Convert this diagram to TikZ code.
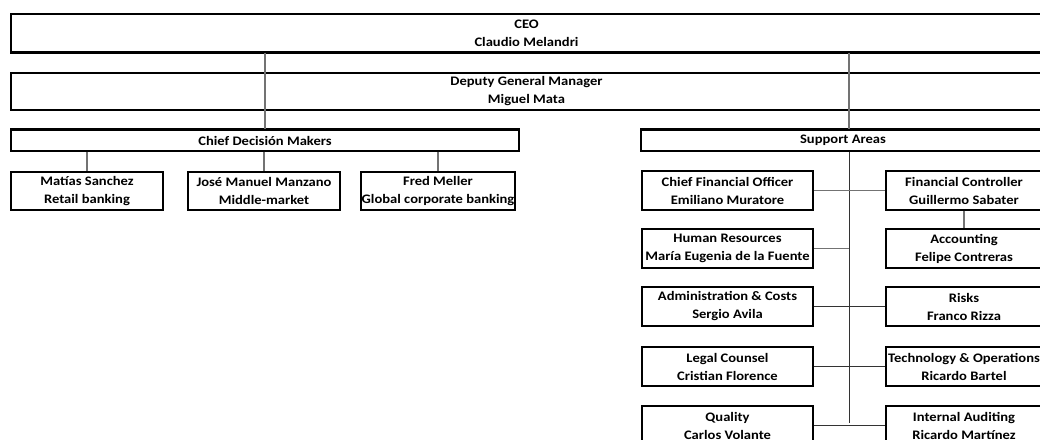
\documentclass[tikz,border=0pt]{standalone}
\usepackage{fontspec}
\setmainfont{Carlito}[FakeStretch=1.12]
\begin{document}
\begin{tikzpicture}[x=1pt,y=-1pt,
  box/.style={draw=black, line width=1.2pt, inner sep=0pt, align=center,
    font=\fontsize{13}{18}\selectfont\bfseries},
  wbox/.style={box, line width=1.8pt},
  conn/.style={draw=black!55, line width=1.8pt},
  thin/.style={draw=black!80, line width=1pt}]
\useasboundingbox[fill=white] (0,0) rectangle (1040,439);
% top boxes
\node[box, minimum width=1031pt, minimum height=38pt] (ceo) at (526.5,33) {CEO\\Claudio Melandri};
\node[box, minimum width=1031pt, minimum height=37pt] (dgm) at (526.5,91.5) {Deputy General Manager\\Miguel Mata};
\node[box, minimum width=508pt, minimum height=21pt] (cdm) at (265,140.5) {Chief Decisión Makers};
\node[box, minimum width=404pt, minimum height=21pt] (sa) at (843,140.5) {Support Areas};
% thick edges
\draw[line width=2.8pt] (ceo.south west) -- (ceo.south east);
\draw[line width=2.8pt] (cdm.north west) -- (cdm.north east);
\draw[line width=2.8pt] (sa.north west) -- (sa.north east);
% decision makers
\node[box, minimum width=152pt, minimum height=38pt] (ms) at (87,191) {Matías Sanchez\\Retail banking};
\node[box, minimum width=152pt, minimum height=38pt] (jm) at (264,191) {José Manuel Manzano\\Middle-market};
\node[box, minimum width=154pt, minimum height=38pt] (fm) at (438,191) {Fred Meller\\Global corporate banking};
% support left column
\node[wbox, minimum width=171pt, minimum height=39pt] (cfo) at (727.5,190.5) {Chief Financial Officer\\Emiliano Muratore};
\node[wbox, minimum width=171pt, minimum height=39pt] (hr) at (727.5,248.5) {Human Resources\\María Eugenia de la Fuente};
\node[wbox, minimum width=171pt, minimum height=39pt] (adm) at (727.5,306.5) {Administration \& Costs\\Sergio Avila};
\node[wbox, minimum width=171pt, minimum height=39pt] (leg) at (727.5,366.5) {Legal Counsel\\Cristian Florence};
\node[wbox, minimum width=171pt, minimum height=39pt] (qua) at (727.5,425.5) {Quality\\Carlos Volante};
% support right column
\node[box, minimum width=156pt, minimum height=39pt] (fc) at (964,190.5) {Financial Controller\\Guillermo Sabater};
\node[box, minimum width=156pt, minimum height=39pt] (acc) at (964,248.5) {Accounting\\Felipe Contreras};
\node[box, minimum width=156pt, minimum height=39pt] (ris) at (964,306.5) {Risks\\Franco Rizza};
\node[box, minimum width=156pt, minimum height=39pt] (tec) at (964,366.5) {Technology \& Operations\\Ricardo Bartel};
\node[box, minimum width=156pt, minimum height=39pt] (ia) at (964,425.5) {Internal Auditing\\Ricardo Martínez};
% spine
\coordinate (spine) at (849,423);
% connectors
\draw[conn] (cdm.north |- ceo.south) -- (cdm.north);
\draw[conn] (ceo.south -| spine) -- (sa.north -| spine);
\draw[conn] (ms.north |- cdm.south) -- (ms.north);
\draw[conn] (jm.north |- cdm.south) -- (jm.north);
\draw[conn] (fm.north |- cdm.south) -- (fm.north);
\draw[thin] (sa.south -| spine) -- (spine);
\draw[conn] (cfo.east) -- (fc.west);
\draw[conn] (hr.east) -- (hr.east -| spine);
\draw[thin] (adm.east) -- (ris.west);
\draw[thin] (leg.east) -- (tec.west);
\draw[thin] (qua.east) -- (ia.west);
\draw[conn] (fc.south) -- (acc.north);
\end{tikzpicture}
\end{document}
